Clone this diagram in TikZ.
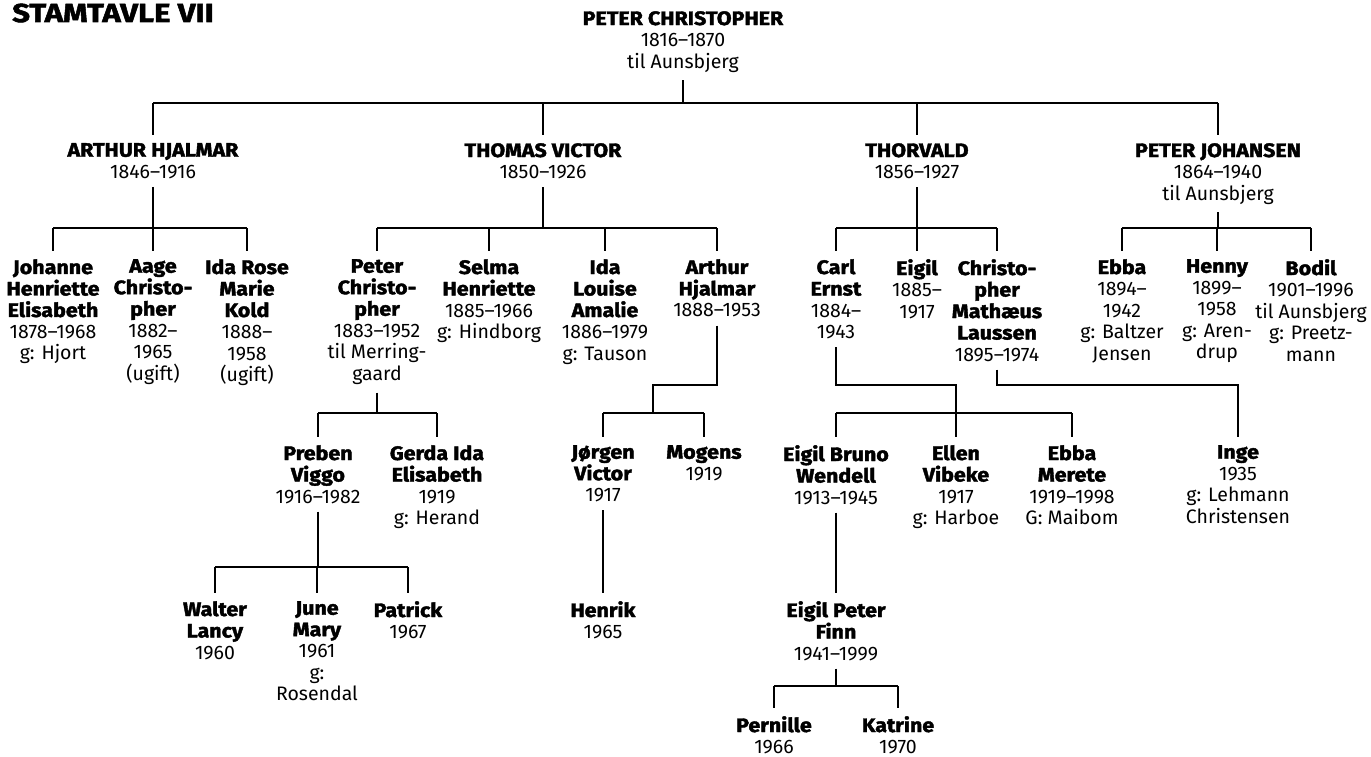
\documentclass[tikz,border=0pt]{standalone}
\usepackage{fontspec}
\setmainfont{Fira Sans}[BoldFeatures={FakeStretch=1.1,FakeBold=2}]
\newfontfamily\titlefont{Fira Sans}[FakeStretch=1.2,BoldFeatures={FakeBold=2}]
\newcommand\pn[1]{\textbf{#1}}
\begin{document}
\begin{tikzpicture}[x=1pt,y=-1pt]
\tikzset{
  person/.style={anchor=north, align=center, inner xsep=0pt, inner ysep=8pt,
    font=\fontsize{19.5}{21.5}\selectfont},
  link/.style={line width=1.3pt, black},
}
\useasboundingbox (0,0) rectangle (1371,757);
\node[anchor=base west, inner sep=0pt, font=\titlefont\fontsize{26}{30}\selectfont\bfseries] (title) at (12,22) {STAMTAVLE VII};

% generation 0
\node[person] (top) at (683,3) {\pn{PETER CHRISTOPHER}\\1816–1870\\til Aunsbjerg};
% generation 1
\node[person] (a1) at (153,135) {\pn{ARTHUR HJALMAR}\\1846–1916};
\node[person] (a2) at (543,135) {\pn{THOMAS VICTOR}\\1850–1926};
\node[person] (a3) at (917,135) {\pn{THORVALD}\\1856–1927};
\node[person] (a4) at (1218,135) {\pn{PETER JOHANSEN}\\1864–1940\\til Aunsbjerg};
% generation 2
\node[person] (c1) at (53,251) {\pn{Johanne}\\\pn{Henriette}\\\pn{Elisabeth}\\1878–1968\\g: Hjort};
\node[person] (c2) at (153,251) {\pn{Aage}\\\pn{Christo-}\\\pn{pher}\\1882–\\1965\\(ugift)};
\node[person] (c3) at (247,251) {\pn{Ida Rose}\\\pn{Marie}\\\pn{Kold}\\1888–\\1958\\(ugift)};
\node[person] (d1) at (377,251) {\pn{Peter}\\\pn{Christo-}\\\pn{pher}\\1883–1952\\til Merring-\\gaard};
\node[person] (d2) at (489,251) {\pn{Selma}\\\pn{Henriette}\\1885–1966\\g: Hindborg};
\node[person] (d3) at (605,251) {\pn{Ida}\\\pn{Louise}\\\pn{Amalie}\\1886–1979\\g: Tauson};
\node[person] (d4) at (717,251) {\pn{Arthur}\\\pn{Hjalmar}\\1888–1953};
\node[person] (e1) at (836,251) {\pn{Carl}\\\pn{Ernst}\\1884–\\1943};
\node[person] (e2) at (917,251) {\pn{Eigil}\\1885–\\1917};
\node[person] (e3) at (997,251) {\pn{Christo-}\\\pn{pher}\\\pn{Mathæus}\\\pn{Laussen}\\1895–1974};
\node[person] (f1) at (1122,251) {\pn{Ebba}\\1894–\\1942\\g: Baltzer\\Jensen};
\node[person] (f2) at (1217,251) {\pn{Henny}\\1899–\\1958\\g: Aren-\\drup};
\node[person] (f3) at (1311,251) {\pn{Bodil}\\1901–1996\\til Aunsbjerg\\g: Preetz-\\mann};
% generation 3
\node[person] (g1) at (318,437) {\pn{Preben}\\\pn{Viggo}\\1916–1982};
\node[person] (g2) at (437,437) {\pn{Gerda Ida}\\\pn{Elisabeth}\\1919\\g: Herand};
\node[person] (h1) at (603,437) {\pn{Jørgen}\\\pn{Victor}\\1917};
\node[person] (h2) at (704,437) {\pn{Mogens}\\1919};
\node[person] (i1) at (836,437) {\pn{Eigil Bruno}\\\pn{Wendell}\\1913–1945};
\node[person] (i2) at (956,437) {\pn{Ellen}\\\pn{Vibeke}\\1917\\g: Harboe};
\node[person] (i3) at (1072,437) {\pn{Ebba}\\\pn{Merete}\\1919–1998\\G: Maibom};
\node[person] (inge) at (1238,437) {\pn{Inge}\\1935\\g: Lehmann\\Christensen};
% generation 4
\node[person] (j1) at (215,593) {\pn{Walter}\\\pn{Lancy}\\1960};
\node[person] (j2) at (317,593) {\pn{June}\\\pn{Mary}\\1961\\g:\\Rosendal};
\node[person] (j3) at (408,593) {\pn{Patrick}\\1967};
\node[person] (henrik) at (603,593) {\pn{Henrik}\\1965};
\node[person] (finn) at (836,593) {\pn{Eigil Peter}\\\pn{Finn}\\1941–1999};
% generation 5
\node[person] (k1) at (774,708) {\pn{Pernille}\\1966};
\node[person] (k2) at (898,708) {\pn{Katrine}\\1970};

% bar levels
\coordinate (r0) at (0,103);
\coordinate (r1) at (0,228);
\coordinate (r2) at (0,385);
\coordinate (r3) at (0,413);
\coordinate (r4) at (0,567);
\coordinate (r5) at (0,686);
\coordinate (jA) at (653,0);

% connectors
\draw[link] (top.south) -- (top.south|-r0);
\draw[link] (a1.north|-r0) -- (a4.north|-r0);
\foreach \n in {a1,a2,a3,a4} \draw[link] (\n.north|-r0) -- (\n.north);

\draw[link] (a1.south) -- (a1.south|-r1);
\draw[link] (c1.north|-r1) -- (c3.north|-r1);
\foreach \n in {c1,c2,c3} \draw[link] (\n.north|-r1) -- (\n.north);

\draw[link] (a2.south) -- (a2.south|-r1);
\draw[link] (d1.north|-r1) -- (d4.north|-r1);
\foreach \n in {d1,d2,d3,d4} \draw[link] (\n.north|-r1) -- (\n.north);

\draw[link] (a3.south) -- (a3.south|-r1);
\draw[link] (e1.north|-r1) -- (e3.north|-r1);
\foreach \n in {e1,e2,e3} \draw[link] (\n.north|-r1) -- (\n.north);

\draw[link] (a4.south) -- (a4.south|-r1);
\draw[link] (f1.north|-r1) -- (f3.north|-r1);
\foreach \n in {f1,f2,f3} \draw[link] (\n.north|-r1) -- (\n.north);

\draw[link] (d1.south) -- (d1.south|-r3);
\draw[link] (g1.north|-r3) -- (g2.north|-r3);
\foreach \n in {g1,g2} \draw[link] (\n.north|-r3) -- (\n.north);

\draw[link] (d4.south) |- (jA|-r2) -- (jA|-r3);
\draw[link] (h1.north|-r3) -- (h2.north|-r3);
\foreach \n in {h1,h2} \draw[link] (\n.north|-r3) -- (\n.north);

\draw[link] (e1.south) |- (i2.north|-r2) -- (i2.north);
\draw[link] (i1.north|-r3) -- (i3.north|-r3);
\foreach \n in {i1,i3} \draw[link] (\n.north|-r3) -- (\n.north);

\draw[link] (e3.south) |- (inge.north|-r2) -- (inge.north);

\draw[link] (g1.south) -- (g1.south|-r4);
\draw[link] (j1.north|-r4) -- (j3.north|-r4);
\foreach \n in {j1,j2,j3} \draw[link] (\n.north|-r4) -- (\n.north);

\draw[link] (h1.south) -- (henrik.north);
\draw[link] (i1.south) -- (finn.north);

\draw[link] (finn.south) -- (finn.south|-r5);
\draw[link] (k1.north|-r5) -- (k2.north|-r5);
\foreach \n in {k1,k2} \draw[link] (\n.north|-r5) -- (\n.north);
\end{tikzpicture}
\end{document}
